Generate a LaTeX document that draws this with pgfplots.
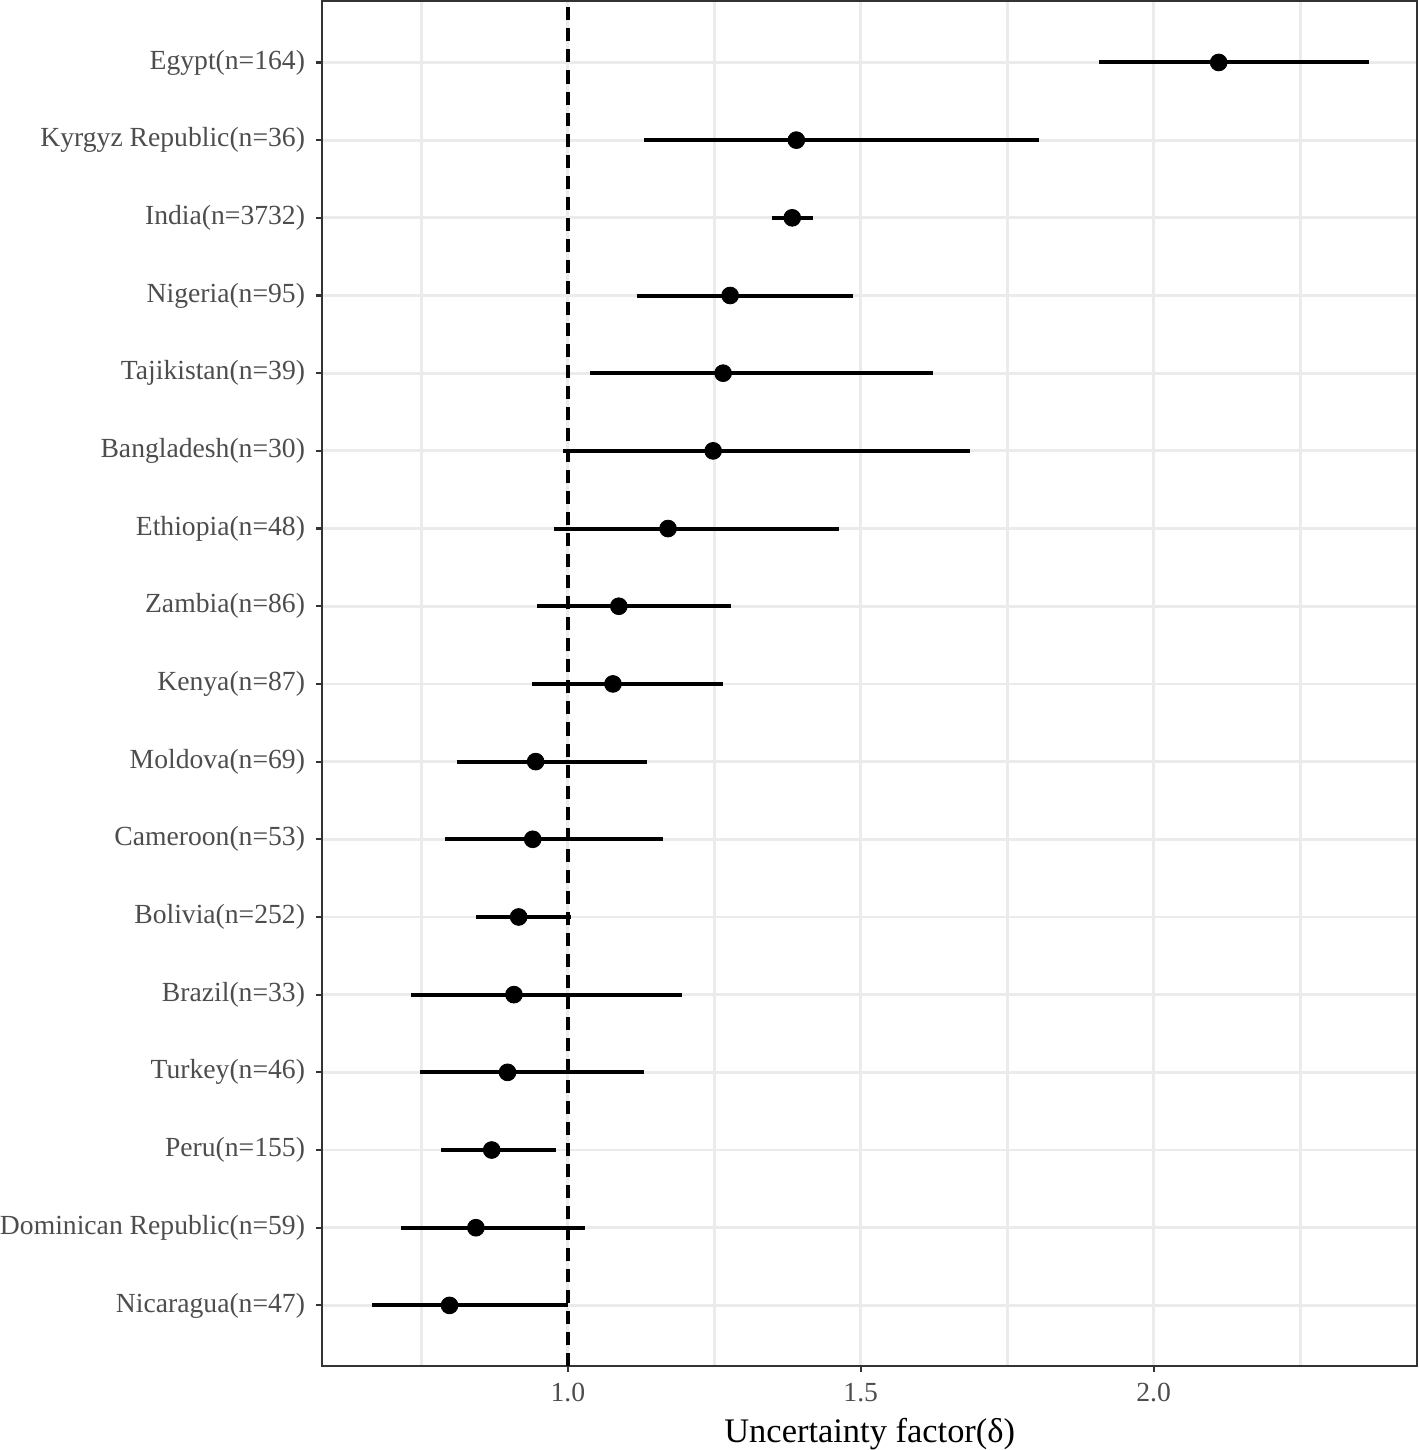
\documentclass[border=0pt]{standalone}
\usepackage{pgfplots}
\pgfplotsset{compat=1.18}
\usepackage{pgfplotstable}
\usepackage{fontspec}
\setmainfont{Liberation Serif}
\definecolor{tickgray}{HTML}{4D4D4D}
\definecolor{axgray}{HTML}{333333}
\definecolor{gridgray}{HTML}{EBEBEB}

\pgfplotstableread{
y est lo hi
17 2.111 1.906 2.368
16 1.390 1.130 1.805
15 1.383 1.349 1.419
14 1.277 1.118 1.487
13 1.265 1.038 1.624
12 1.248 0.991 1.687
11 1.171 0.976 1.463
10 1.087 0.947 1.279
9  1.077 0.938 1.265
8  0.945 0.810 1.135
7  0.940 0.790 1.162
6  0.916 0.843 1.005
5  0.908 0.732 1.195
4  0.897 0.747 1.130
3  0.870 0.783 0.979
2  0.843 0.715 1.029
1  0.798 0.665 1.000
}\data

\begin{document}
\begin{tikzpicture}
\begin{axis}[
  scale only axis,
  width=546.5pt, height=681.5pt,
  xmin=0.581, xmax=2.4496,
  ymin=0.214, ymax=17.786,
  xtick={1.0,1.5,2.0},
  xticklabels={1.0,1.5,2.0},
  minor xtick={0.75,1.25,1.75,2.25},
  ytick={1,...,17},
  yticklabels={Nicaragua(n=47),Dominican Republic(n=59),Peru(n=155),Turkey(n=46),Brazil(n=33),Bolivia(n=252),Cameroon(n=53),Moldova(n=69),Kenya(n=87),Zambia(n=86),Ethiopia(n=48),Bangladesh(n=30),Tajikistan(n=39),Nigeria(n=95),India(n=3732),Kyrgyz Republic(n=36),Egypt(n=164)},
  xmajorgrids, xminorgrids, ymajorgrids,
  major grid style={gridgray, line width=1.4pt},
  minor grid style={gridgray, line width=1.4pt},
  axis line style={axgray, line width=1pt},
  tick align=outside,
  major tick length=3pt,
  minor tick length=0pt,
  every tick/.style={axgray, line width=1.1pt},
  tick label style={tickgray, font=\fontsize{13.8}{16}\selectfont},
  yticklabel style={inner sep=0pt, xshift=-5.5pt},
  xticklabel style={inner sep=0pt, yshift=-5pt},
  /pgf/number format/assume math mode=true,
  xtick pos=bottom, ytick pos=left,
  xlabel={Uncertainty factor(δ)},
  xlabel style={font=\fontsize{17.2}{20}\selectfont, black, inner sep=0pt,
    at={(axis description cs:0.5,0)}, anchor=base, yshift=-38pt},
  clip=true,
]
\addplot[black, line width=1.8pt, dash pattern=on 6.5pt off 4pt, forget plot] coordinates {(1,0.214) (1,17.786)};
\addplot[only marks, mark=*, mark size=4.2pt, black,
  error bars/.cd, x dir=both, x explicit, error mark=none,
  error bar style={line width=2pt, black}]
  table[x=est, y=y,
    x error plus expr=\thisrow{hi}-\thisrow{est},
    x error minus expr=\thisrow{est}-\thisrow{lo}] {\data};
\end{axis}
\end{tikzpicture}
\end{document}
